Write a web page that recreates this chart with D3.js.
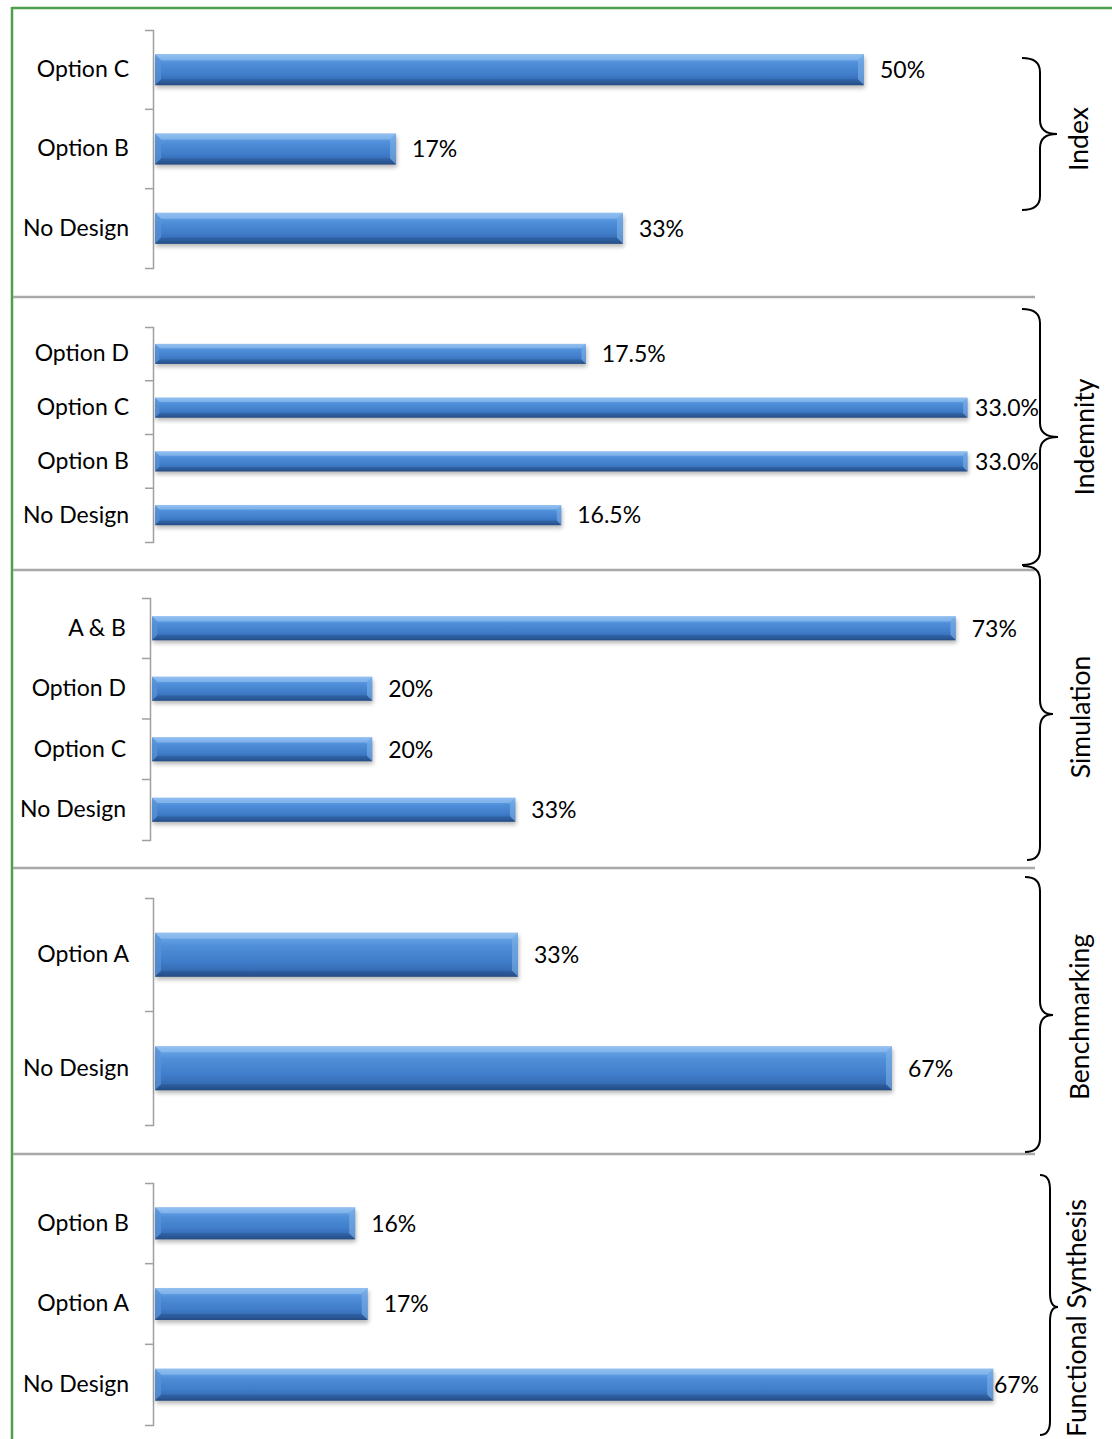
<!DOCTYPE html>
<html><head><meta charset="utf-8">
<script src="https://cdn.jsdelivr.net/npm/d3@7"></script>
<style>html,body{margin:0;padding:0;background:#fff;}svg{display:block;}</style>
</head><body>
<script>
// ---- data ----
const panelNames = ["Index", "Indemnity", "Simulation", "Benchmarking", "Functional Synthesis"];
const indexCategories = ["Option C", "Option B", "No Design"];
const indexValues = [50, 17, 33];
const indemnityCategories = ["Option D", "Option C", "Option B", "No Design"];
const indemnityValues = [17.5, 33.0, 33.0, 16.5];
const simulationCategories = ["A & B", "Option D", "Option C", "No Design"];
const simulationValues = [73, 20, 20, 33];
const benchmarkingCategories = ["Option A", "No Design"];
const benchmarkingValues = [33, 67];
const synthesisCategories = ["Option B", "Option A", "No Design"];
const synthesisValues = [16, 17, 67];
const labelDecimals = [0, 1, 0, 0, 0];

// ---- layout ----
const W = 1112, H = 1439;
const layout = [
  {x0:155, px:14.18, y0:30,  y1:268,  bh:31, brace:{xt:1022, yt:58,  xb:1022, yb:210,  xv:1040, tx:1057, ty:134}, lab:{x:1088, y:139}},
  {x0:155, px:24.62, y0:327, y1:542,  bh:20, brace:{xt:1022, yt:309, xb:1022, yb:565,  xv:1040, tx:1058, ty:437}, lab:{x:1094, y:437}},
  {x0:152, px:11.01, y0:598, y1:840,  bh:24, brace:{xt:1023, yt:566, xb:1027, yb:860,  xv:1040, tx:1053, ty:714}, lab:{x:1090, y:717}},
  {x0:155, px:11.0,  y0:898, y1:1125, bh:44, brace:{xt:1025, yt:877, xb:1025, yb:1152, xv:1040, tx:1053, ty:1015}, lab:{x:1089, y:1017}},
  {x0:155, px:12.51, y0:1183,y1:1425, bh:32, brace:{xt:1040, yt:1175,xb:1040, yb:1435, xv:1050, tx:1058, ty:1307}, lab:{x:1086, y:1318}}
];
const separators = [297, 570, 868, 1154];
const FONT = "Lato, 'Open Sans', sans-serif";
const FS = 23;
const FS_SIDE = 26.5;

const panels = [
  [indexCategories, indexValues],
  [indemnityCategories, indemnityValues],
  [simulationCategories, simulationValues],
  [benchmarkingCategories, benchmarkingValues],
  [synthesisCategories, synthesisValues]
];

const svg = d3.select("body").append("svg").attr("width", W).attr("height", H)
  .style("font-family", FONT);

const defs = svg.append("defs");
const grad = defs.append("linearGradient").attr("id", "barGrad").attr("x1", 0).attr("y1", 0).attr("x2", 0).attr("y2", 1);
[[0, "#86b8ee"], [0.14, "#62a0e4"], [0.3, "#4f8ed9"], [0.65, "#407dca"], [0.88, "#346ab2"], [1, "#284f8a"]]
  .forEach(([o, c]) => grad.append("stop").attr("offset", o).attr("stop-color", c));
const blur = defs.append("filter").attr("id", "shadow").attr("x", "-5%").attr("y", "-50%").attr("width", "110%").attr("height", "200%");
blur.append("feGaussianBlur").attr("stdDeviation", 2);

// border
svg.append("line").attr("x1", 12).attr("x2", W).attr("y1", 8).attr("y2", 8)
  .attr("stroke", "#4e9f4e").attr("stroke-width", 2.5);
svg.append("line").attr("x1", 12).attr("x2", 12).attr("y1", 7).attr("y2", H)
  .attr("stroke", "#4e9f4e").attr("stroke-width", 2.5);

// separators
svg.selectAll("line.sep").data(separators).join("line").attr("class", "sep")
  .attr("x1", 13).attr("x2", 1035).attr("y1", d => d).attr("y2", d => d)
  .attr("stroke", "#a8a8a8").attr("stroke-width", 2.5);

panels.forEach(([cats, vals], i) => {
  const L = layout[i];
  const g = svg.append("g");
  const x = d3.scaleLinear().domain([0, 100]).range([L.x0, L.x0 + L.px * 100]);
  const step = (L.y1 - L.y0) / cats.length;
  const pad = 1 - L.bh / step;
  const y = d3.scaleBand().domain(cats).range([L.y0, L.y1]).paddingInner(pad).paddingOuter(pad / 2);

  // axis
  const axX = L.x0 - 2;
  const ax = g.append("g").attr("transform", `translate(${axX},0)`)
    .call(d3.axisLeft(y).tickSizeInner(0).tickSizeOuter(8).tickPadding(axX - (L.x0 - 26)));
  ax.select(".domain").attr("stroke", "#a0a0a0").attr("stroke-width", 1.5);
  ax.selectAll("text").attr("font-size", FS).attr("font-family", FONT).attr("fill", "#000");
  // inner boundary ticks
  const bounds = d3.range(1, cats.length).map(k => L.y0 + k * step);
  g.selectAll("line.bt").data(bounds).join("line").attr("class", "bt")
    .attr("x1", axX - 8).attr("x2", axX).attr("y1", d => d).attr("y2", d => d)
    .attr("stroke", "#a0a0a0").attr("stroke-width", 1.5);

  const data = cats.map((c, k) => ({c, v: vals[k]}));
  const bars = g.selectAll("g.bar").data(data).join("g").attr("class", "bar");
  const bh = y.bandwidth();
  const b = Math.min(6, bh * 0.22);
  // shadow
  bars.append("rect").attr("x", L.x0 + 1).attr("y", d => y(d.c) + 3)
    .attr("width", d => x(d.v) - L.x0).attr("height", bh)
    .attr("fill", "#000").attr("opacity", 0.28).attr("filter", "url(#shadow)");
  bars.append("rect").attr("x", L.x0).attr("y", d => y(d.c))
    .attr("width", d => x(d.v) - L.x0).attr("height", bh).attr("fill", "url(#barGrad)");
  // top bevel
  bars.append("path").attr("d", d => {
    const x0 = L.x0, xe = x(d.v), yy = y(d.c);
    return `M${x0},${yy}L${xe},${yy}L${xe - b},${yy + b}L${x0 + b},${yy + b}Z`;
  }).attr("fill", "#9cc6f2").attr("opacity", 0.55);
  // left bevel
  bars.append("path").attr("d", d => {
    const x0 = L.x0, yy = y(d.c);
    return `M${x0},${yy}L${x0 + b},${yy + b}L${x0 + b},${yy + bh - b}L${x0},${yy + bh}Z`;
  }).attr("fill", "#5a93d6").attr("opacity", 0.7);
  // right bevel
  bars.append("path").attr("d", d => {
    const xe = x(d.v), yy = y(d.c);
    return `M${xe},${yy}L${xe},${yy + bh}L${xe - b},${yy + bh - b}L${xe - b},${yy + b}Z`;
  }).attr("fill", "#7fb0e6").attr("opacity", 0.6);
  // bottom edge
  bars.append("path").attr("d", d => {
    const x0 = L.x0, xe = x(d.v), yy = y(d.c);
    return `M${x0},${yy + bh}L${xe},${yy + bh}L${xe - b},${yy + bh - b}L${x0 + b},${yy + bh - b}Z`;
  }).attr("fill", "#1f4478").attr("opacity", 0.35);

  // value labels
  const fmt = d3.format(`.${labelDecimals[i]}f`);
  bars.append("text").attr("font-size", FS).attr("font-family", FONT).attr("fill", "#000")
    .attr("y", d => y(d.c) + bh / 2).attr("dy", "0.36em")
    .text(d => fmt(d.v) + "%")
    .attr("x", function(d) {
      const w = this.getComputedTextLength();
      return Math.min(x(d.v) + 16, 1039 - w);
    });

  // brace
  const B = L.brace;
  const r = 14;
  const path = `M${B.xt},${B.yt} Q${B.xv},${B.yt} ${B.xv},${B.yt + r} L${B.xv},${B.ty - r} Q${B.xv},${B.ty} ${B.tx},${B.ty} ` +
    `Q${B.xv},${B.ty} ${B.xv},${B.ty + r} L${B.xv},${B.yb - r} Q${B.xv},${B.yb} ${B.xb},${B.yb}`;
  g.append("path").attr("d", path).attr("fill", "none").attr("stroke", "#000").attr("stroke-width", 2);
  g.append("text").attr("transform", `translate(${L.lab.x},${L.lab.y}) rotate(-90)`)
    .attr("text-anchor", "middle").attr("font-size", FS_SIDE).attr("font-family", FONT).attr("fill", "#000")
    .text(panelNames[i]);
});
</script>
</body></html>
